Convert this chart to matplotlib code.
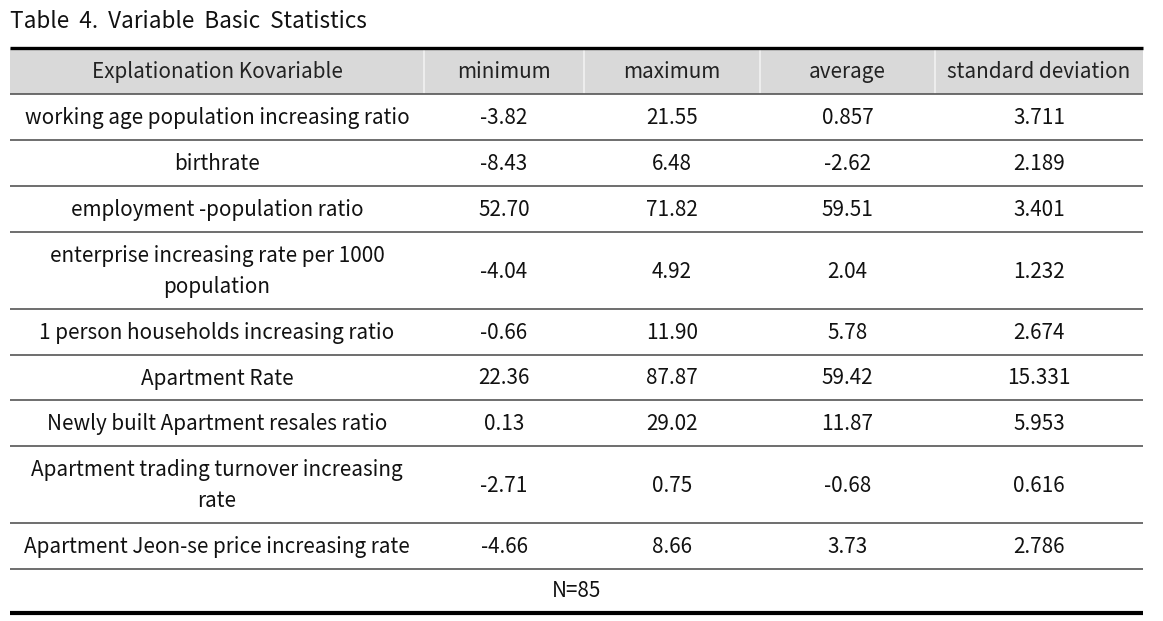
import matplotlib
matplotlib.use("Agg")
import matplotlib.pyplot as plt

plt.rcParams['font.family'] = ['Noto Sans CJK KR', 'DejaVu Sans']

title = "Table  4.  Variable  Basic  Statistics"
columns = ["Explationation Kovariable", "minimum", "maximum", "average", "standard deviation"]
variables = [
    "working age population increasing ratio",
    "birthrate",
    "employment -population ratio",
    "enterprise increasing rate per 1000\npopulation",
    "1 person households increasing ratio",
    "Apartment Rate",
    "Newly built Apartment resales ratio",
    "Apartment trading turnover increasing\nrate",
    "Apartment Jeon-se price increasing rate",
]
minimum = ["-3.82", "-8.43", "52.70", "-4.04", "-0.66", "22.36", "0.13", "-2.71", "-4.66"]
maximum = ["21.55", "6.48", "71.82", "4.92", "11.90", "87.87", "29.02", "0.75", "8.66"]
average = ["0.857", "-2.62", "59.51", "2.04", "5.78", "59.42", "11.87", "-0.68", "3.73"]
std_dev = ["3.711", "2.189", "3.401", "1.232", "2.674", "15.331", "5.953", "0.616", "2.786"]
note = "N=85"

W, H = 1163, 621
fig = plt.figure(figsize=(W / 100, H / 100), dpi=100)
ax = fig.add_axes([0, 0, 1, 1])
ax.set_xlim(0, W)
ax.set_ylim(H, 0)
ax.axis('off')

# table geometry in pixels
col_edges = [10, 424, 584, 760, 935, 1143]
row_edges = [48, 94, 140, 186, 232, 309, 355, 400, 446, 523, 569, 613]
fs = 14.9

ax.text(10, 21, title, fontsize=16.2, va='center', ha='left', color='#111111')

# header band
ax.add_patch(plt.Rectangle((col_edges[0], row_edges[0]), col_edges[-1] - col_edges[0],
                           row_edges[1] - row_edges[0], color='#d9d9d9', lw=0))
for x in col_edges[1:-1]:
    ax.plot([x, x], [row_edges[0] + 2, row_edges[1] - 1], color='#f2f2f2', lw=1.2)

for i, name in enumerate(columns):
    xc = (col_edges[i] + col_edges[i + 1]) / 2
    ax.text(xc, (row_edges[0] + row_edges[1]) / 2 + 1, name, fontsize=fs,
            ha='center', va='center', color='#222222')

rows = list(zip(variables, minimum, maximum, average, std_dev))
for r, vals in enumerate(rows):
    yc = (row_edges[r + 1] + row_edges[r + 2]) / 2
    for i, v in enumerate(vals):
        xc = (col_edges[i] + col_edges[i + 1]) / 2
        ax.text(xc, yc + 1, v, fontsize=fs, ha='center', va='center',
                color='#111111', linespacing=1.58)

# N row
ax.text((col_edges[0] + col_edges[-1]) / 2, (row_edges[-2] + row_edges[-1]) / 2,
        note, fontsize=fs, ha='center', va='center', color='#111111')

# horizontal rules
ax.plot([col_edges[0], col_edges[-1]], [row_edges[0] - 0.5] * 2, color='black', lw=2.4,
        solid_capstyle='butt')
for y in row_edges[1:-1]:
    ax.plot([col_edges[0], col_edges[-1]], [y, y], color='#555555', lw=1.2,
            solid_capstyle='butt')
ax.plot([col_edges[0], col_edges[-1]], [row_edges[-1], row_edges[-1]], color='black', lw=3,
        solid_capstyle='butt')

fig.savefig("out.png", dpi=100)
